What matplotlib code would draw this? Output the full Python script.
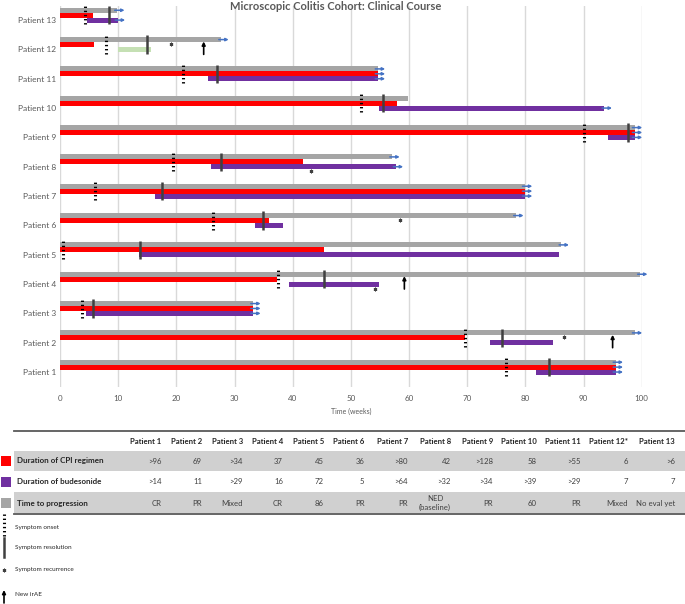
import numpy as np
import matplotlib.pyplot as plt
from matplotlib.patches import Rectangle

plt.rcParams['font.family'] = ['Lato', 'DejaVu Sans']

# chart data, index 0 = Patient 1
patients = ["Patient %d" % i for i in range(1, 14)]
prog_end = [95.5, 98.8, 33.2, 99.7, 86.2, 78.4, 79.9, 57.1, 98.8, 59.9, 54.6, 27.7, 9.8]
cpi_end = [95.5, 69.7, 33.2, 37.3, 45.3, 35.9, 79.9, 41.8, 98.8, 57.9, 54.6, 5.9, 5.7]
bud_start = [81.8, 73.9, 4.4, 39.3, 13.6, 33.6, 16.4, 25.9, 94.2, 54.8, 25.5, 9.95, 4.6]
bud_end = [95.5, 84.7, 33.2, 54.8, 85.7, 38.4, 79.9, 57.7, 98.8, 93.6, 54.6, 15.7, 9.9]
bud_colors = ['#7030a0'] * 11 + ['#c5e0b4', '#7030a0']
# ongoing (arrow at the end): progression, CPI, budesonide
prog_ongoing = [1, 1, 1, 1, 1, 1, 1, 1, 1, 0, 1, 1, 1]
cpi_ongoing = [1, 0, 1, 0, 0, 0, 1, 0, 1, 0, 1, 0, 0]
bud_ongoing = [1, 0, 1, 0, 0, 0, 1, 1, 1, 1, 1, 0, 1]

onset = [76.6, 69.7, 3.8, 37.4, 0.5, 26.3, 6.1, 19.5, 90.0, 51.8, 21.2, 7.9, 4.3]
resolution = [84.1, 76.0, 5.6, 45.3, 13.7, 34.9, 17.6, 27.7, 97.6, 55.6, 27.0, 14.9, 8.5]
recur_patient = [2, 4, 6, 8, 12]
recur_week = [86.6, 54.2, 58.4, 43.1, 19.1]
recur_below = [0, 1, 0, 1, 0]
irae_patient = [2, 4, 12]
irae_week = [95.0, 59.2, 24.7]

# table data
col_heads = ["Patient %d" % i for i in range(1, 12)] + ["Patient 12*", "Patient 13"]
cpi_row = [">96", "69", ">34", "37", "45", "36", ">80", "42", ">128", "58", ">55", "6", ">6"]
bud_row = [">14", "11", ">29", "16", "72", "5", ">64", ">32", ">34", ">39", ">29", "7", "7"]
prog_row = ["CR", "PR", "Mixed", "CR", "86", "PR", "PR", "NED\n(baseline)", "PR", "60", "PR", "Mixed", "No eval yet"]
row_names = ["Duration of CPI regimen", "Duration of budesonide", "Time to progression"]
row_colors = ['#ff0000', '#7030a0', '#a5a5a5']
legend_items = ["Symptom onset", "Symptom resolution", "Symptom recurrence", "New irAE"]

GREY = '#a5a5a5'
RED = '#ff0000'
ARROW = '#4472c4'
DOTS = (0, (0.45, 0.9))

fig = plt.figure(figsize=(6.85, 6.04), dpi=100)
ax = fig.add_axes([60 / 685, 1 - 387 / 604, 581.7 / 685, 381 / 604])

y = np.arange(1, 14)
h = 0.17
ax.barh(y + 0.335, prog_end, height=h, color=GREY, zorder=2)
ax.barh(y + 0.168, cpi_end, height=h, color=RED, zorder=3)
ax.barh(y, np.array(bud_end) - np.array(bud_start), left=bud_start, height=h,
        color=bud_colors, zorder=3)


def end_arrow(x, yy):
    ax.annotate('', xy=(x + 1.3, yy), xytext=(x - 0.4, yy), annotation_clip=False,
                arrowprops=dict(arrowstyle='-|>', color=ARROW, lw=1.1, mutation_scale=4,
                                shrinkA=0, shrinkB=0), zorder=5)


for i in range(13):
    if prog_ongoing[i]:
        end_arrow(prog_end[i], y[i] + 0.335)
    if cpi_ongoing[i]:
        end_arrow(cpi_end[i], y[i] + 0.168)
    if bud_ongoing[i]:
        end_arrow(bud_end[i], y[i])

ax.vlines(onset, y - 0.15, y + 0.48, colors='black', linestyles=DOTS, lw=2.2, zorder=6)
ax.vlines(resolution, y - 0.15, y + 0.48, colors='#404040', lw=1.8, zorder=6)

ry = [p + (-0.16 if b else 0.18) for p, b in zip(recur_patient, recur_below)]
ax.plot(recur_week, ry, ls='', marker=(6, 2, 0), ms=2.6, mew=0.7, color='#404040', zorder=6)

for p, w in zip(irae_patient, irae_week):
    ax.annotate('', xy=(w, p + 0.27), xytext=(w, p - 0.17),
                arrowprops=dict(arrowstyle='-|>', color='black', lw=1.2, mutation_scale=5,
                                shrinkA=0, shrinkB=0), zorder=6)

ax.set_xlim(0, 100)
ax.set_ylim(0.49, 13.48)
ax.set_xticks(range(0, 101, 10))
ax.set_yticks(y)
ax.set_yticklabels(patients)
ax.grid(axis='x', color='#d9d9d9', lw=1)
ax.set_axisbelow(True)
for s in ax.spines.values():
    s.set_visible(False)
ax.tick_params(length=0, labelsize=6, labelcolor='#595959')
ax.tick_params(axis='x', pad=6, labelsize=5.8)
ax.tick_params(axis='y', pad=3)
ax.set_xlabel("Time (weeks)", fontsize=5, color='#595959', labelpad=4)

fig.text(335.5 / 685, 1 - 6 / 604, "Microscopic Colitis Cohort: Clinical Course",
         ha='center', va='center', fontsize=8, fontweight='bold', color='#595959')

# table and key drawn in pixel space
ov = fig.add_axes([0, 0, 1, 1])
ov.set_xlim(0, 685)
ov.set_ylim(604, 0)
ov.axis('off')

col_right = [161.7, 202, 243, 283, 324, 364.5, 408, 451, 493, 537, 581, 628, 675]
ov.plot([14, 685], [431, 431], color='#595959', lw=1.3)
ov.plot([14, 685], [513.5, 513.5], color='#595959', lw=1.3)
ov.add_patch(Rectangle((14, 450.7), 671, 20, color='#d0d0d0', lw=0))
ov.add_patch(Rectangle((14, 491.7), 671, 21.6, color='#d0d0d0', lw=0))

for x, t in zip(col_right, col_heads):
    ov.text(x, 442, t, ha='right', va='center', fontsize=5.6, fontweight='bold', color='#262626')

row_y = [461, 481.7, 503.3]
for ry_, name, c, vals in zip(row_y, row_names, row_colors, [cpi_row, bud_row, prog_row]):
    ov.add_patch(Rectangle((1, ry_ - 5), 10, 10, color=c, lw=0))
    ov.text(16.7, ry_, name, ha='left', va='center', fontsize=5.8, fontweight='bold', color='#262626')
    for x, v in zip(col_right, vals):
        ov.text(x, ry_, v, ha='right', va='center', fontsize=5.6, color='#404040',
                multialignment='center', linespacing=1.3)

key_y = [527.5, 548, 570, 595]
ov.plot([4, 4], [514, 537], color='black', ls=DOTS, lw=2.2)
ov.plot([4, 4], [538, 557], color='#404040', lw=1.8)
ov.plot([4], [570], ls='', marker=(6, 2, 0), ms=2.6, mew=0.7, color='#404040')
ov.annotate('', xy=(4, 590), xytext=(4, 603),
            arrowprops=dict(arrowstyle='-|>', color='black', lw=1.2, mutation_scale=5,
                            shrinkA=0, shrinkB=0))
for k, t in zip(key_y, legend_items):
    ov.text(15, k, t, ha='left', va='center', fontsize=4.6, color='#262626')

plt.savefig("out.png", dpi=100)
